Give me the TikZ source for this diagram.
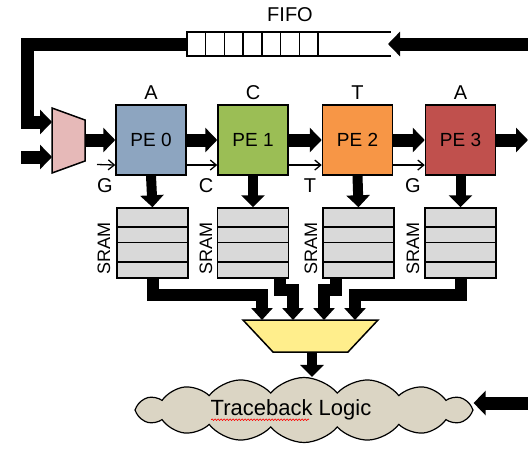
\documentclass[tikz,border=0pt]{standalone}
\usepackage{fontspec}
\setmainfont{Liberation Sans}
\usetikzlibrary{arrows.meta,shapes.symbols,calc,decorations.pathmorphing}

\definecolor{pezero}{RGB}{141,165,192}
\definecolor{peone}{RGB}{155,190,85}
\definecolor{petwo}{RGB}{247,150,70}
\definecolor{pethree}{RGB}{192,80,77}
\definecolor{muxpink}{RGB}{230,185,184}
\definecolor{muxyellow}{RGB}{255,238,140}
\definecolor{sramgray}{RGB}{217,217,217}
\definecolor{cloudtan}{RGB}{219,213,196}

\tikzset{
    pe/.style={draw,line width=1.5pt,minimum width=70pt,minimum height=70pt,inner sep=0pt,font=\fontsize{19}{19}\selectfont},
    sram/.style={draw,line width=1.5pt,fill=sramgray,minimum width=71pt,minimum height=70pt,inner sep=0pt,
        path picture={
            \draw [line width=1.5pt] ($(path picture bounding box.north west)!.27!(path picture bounding box.south west)$) -- ++(80,0);
            \draw [line width=1.5pt] ($(path picture bounding box.north west)!.49!(path picture bounding box.south west)$) -- ++(80,0);
            \draw [line width=1.5pt] ($(path picture bounding box.north west)!.77!(path picture bounding box.south west)$) -- ++(80,0);
        }},
    queue/.style={draw,line width=1.5pt,fill=white,minimum width=131pt,minimum height=23pt,inner sep=0pt,
        path picture={
            \foreach \k in {1,...,6}
                \draw [line width=1.5pt] ($(path picture bounding box.north west)!\k/7!(path picture bounding box.north east)$) -- ++(0,30);
        }},
    lbl/.style={font=\fontsize{20}{20}\selectfont},
    sramlbl/.style={font=\fontsize{18}{18}\selectfont,rotate=90},
    bigarrow/.style={line width=13pt,-{Triangle[length=12pt,width=24pt]}},
    downarrow/.style={line width=10pt,-{Triangle[length=12pt,width=23pt]}},
    bus/.style={line width=12pt,-{Triangle[length=12pt,width=21pt]}},
    thinarrow/.style={line width=1.3pt,-{Straight Barb[length=6pt,width=10pt]}},
    muxline/.style={line width=1.5pt,line join=miter},
}

\begin{document}
\begin{tikzpicture}[x=1pt,y=-1pt]
    \useasboundingbox (0,0) rectangle (528,448);

    % nodes
    \node [queue] (fifo) at (252.5,44) {};
    \node [lbl] (fifolbl) at (290,15) {FIFO};

    \node [pe,fill=pezero] (pe0) at (151,140) {PE 0};
    \node [pe,fill=peone] (pe1) at (253,140) {PE 1};
    \node [pe,fill=petwo] (pe2) at (357.5,140) {PE 2};
    \node [pe,fill=pethree] (pe3) at (460.5,140) {PE 3};

    \node [lbl] (top0) at (151,93) {A};
    \node [lbl] (top1) at (253,93) {C};
    \node [lbl] (top2) at (357.5,93) {T};
    \node [lbl] (top3) at (460.5,93) {A};

    \node [lbl] (bot0) at (105,186) {G};
    \node [lbl] (bot1) at (206,186) {C};
    \node [lbl] (bot2) at (310,186) {T};
    \node [lbl] (bot3) at (413,186) {G};

    \node [sram] (m0) at (152.5,243) {};
    \node [sram] (m1) at (253,243) {};
    \node [sram] (m2) at (358.5,243) {};
    \node [sram] (m3) at (460.5,243) {};

    \node [sramlbl] (s0) at (104,248) {SRAM};
    \node [sramlbl] (s1) at (206,248) {SRAM};
    \node [sramlbl] (s2) at (311,248) {SRAM};
    \node [sramlbl] (s3) at (413,248) {SRAM};

    \node [draw,line width=1.2pt,fill=cloudtan,cloud,cloud puffs=16,cloud puff arc=100,cloud ignores aspect,
        minimum width=338pt,minimum height=65pt,inner sep=0pt] (tb) at (304,410) {};
    \node [font=\fontsize{22}{22}\selectfont] (tbtext) at (291,410) {Traceback Logic};

    % muxes
    \draw [muxline,fill=muxpink] (52,108) -- (85,120) -- (85,161) -- (52,173) -- cycle;
    \coordinate (pmin1) at (52,122);
    \coordinate (pmin2) at (52,157);
    \coordinate (pmout) at (85,140);

    \draw [muxline,fill=muxyellow] (243,320) -- (378,320) -- (348,352) -- (273,352) -- cycle;
    \coordinate (ymin0) at (262,320);
    \coordinate (ymin1) at (293,320);
    \coordinate (ymin2) at (324,320);
    \coordinate (ymin3) at (355,320);
    \coordinate (ymout) at (312,352);

    \coordinate (fin) at (528,44);
    \coordinate (fend) at (388,44);
    \coordinate (lp) at (27,122);
    \coordinate (inl) at (21,157);
    \coordinate (out) at (528,140);
    \coordinate (tin) at (97,164.5);
    \coordinate (cr) at (528,403);

    % fifo tube
    \draw [line width=1.8pt] (fifo.north west) -- ++(205,0);
    \draw [line width=1.8pt] (fifo.south west) -- ++(205,0);

    % arrows
    \draw [bigarrow] (fin) -- (fend);
    \draw [bigarrow] (fifo.west) -| (lp) -- (pmin1);
    \draw [bigarrow] (inl) -- (pmin2);
    \draw [bigarrow] (pmout) -- (pe0.west);
    \draw [bigarrow] (pe0.east) -- (pe1.west);
    \draw [bigarrow] (pe1.east) -- (pe2.west);
    \draw [bigarrow] (pe2.east) -- (pe3.west);
    \draw [bigarrow] (pe3.east) -- (out);

    \draw [thinarrow] (tin) -- (pe0.215);
    \draw [thinarrow] (pe0.-35) -- (pe1.215);
    \draw [thinarrow] (pe1.-35) -- (pe2.215);
    \draw [thinarrow] (pe2.-35) -- (pe3.215);

    \draw [downarrow] (pe0.south) -- (m0.north);
    \draw [downarrow] (pe1.south) -- (m1.north);
    \draw [downarrow] (pe2.south) -- (m2.north);
    \draw [downarrow] (pe3.south) -- (m3.north);

    \draw [bus] (m0.south) |- ($(ymin0)+(0,-25)$) -- (ymin0);
    \draw [bus] ($(m1.south)+(27,0)$) |- ($(ymin1)+(0,-30)$) -- (ymin1);
    \draw [bus] ($(m2.south)+(-23,0)$) |- ($(ymin2)+(0,-30)$) -- (ymin2);
    \draw [bus] (m3.south) |- ($(ymin3)+(0,-25)$) -- (ymin3);

    \draw [downarrow] (ymout) -- (ymout |- tb.north);
    \draw [bigarrow] (cr) -- (cr -| tb.east);

    % spelling mark
    \draw [red,line width=0.6pt,decorate,decoration={snake,amplitude=0.8pt,segment length=3pt}]
        ($(tbtext.base west)+(4,4)$) -- ++(98,0);
\end{tikzpicture}
\end{document}
